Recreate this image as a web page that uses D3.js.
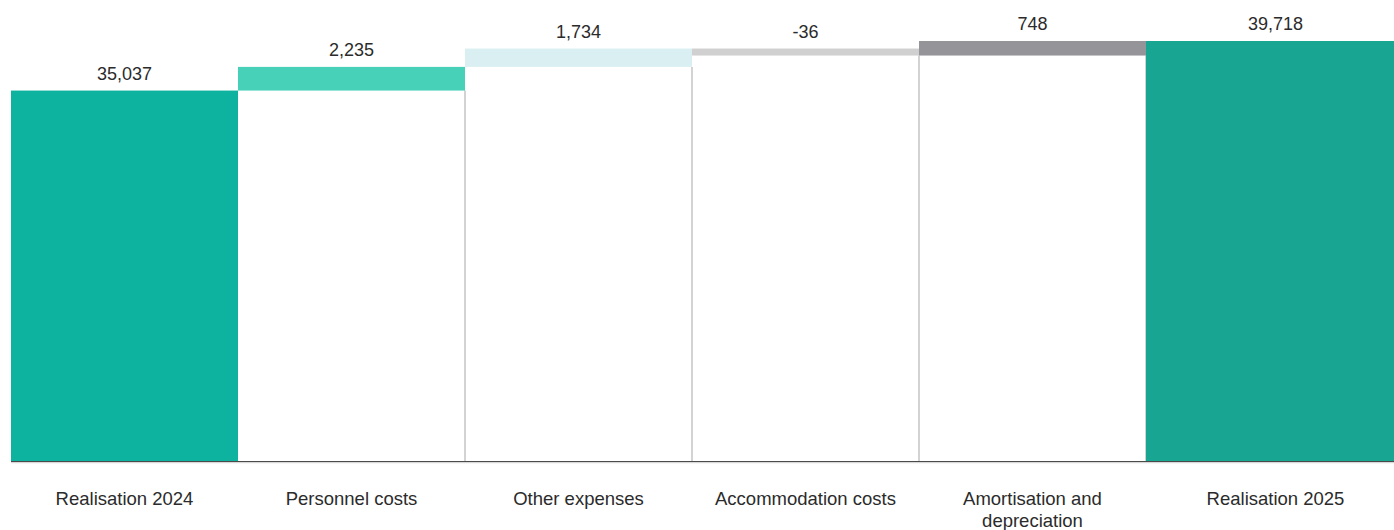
<!DOCTYPE html>
<html>
<head>
<meta charset="utf-8">
<script src="https://cdn.jsdelivr.net/npm/d3@7"></script>
<style>
  html, body { margin: 0; padding: 0; background: #ffffff; overflow: hidden; }
  svg { display: block; }
  text { font-family: "Liberation Sans", Arial, Helvetica, sans-serif; fill: #2b2b2b; }
</style>
</head>
<body>
<svg id="chart" width="1394" height="530"></svg>
<script>
// ---- Data ----
const categories = ["Realisation 2024", "Personnel costs", "Other expenses", "Accommodation costs", "Amortisation and depreciation", "Realisation 2025"];
const labelLines = [["Realisation 2024"], ["Personnel costs"], ["Other expenses"], ["Accommodation costs"], ["Amortisation and", "depreciation"], ["Realisation 2025"]];
const values = [35037, 2235, 1734, -36, 748, 39718];
const kinds = ["total", "step", "step", "step", "step", "total"];
const colors = ["#0db39f", "#47d1b9", "#daeff2", "#d0d0d0", "#959599", "#18a693"];

// ---- Layout ----
const W = 1394, H = 530;
const plotLeft = 11, bandW = 227, plotRightTotal = 1405;
const baseY = 461.5, topY = 41;
const minStepPx = 7;

const svg = d3.select("#chart");
const fmt = v => d3.format(",")(v).replace("\u2212", "-");

const x = d3.scaleBand()
  .domain(categories)
  .range([plotLeft, plotLeft + bandW * categories.length])
  .paddingInner(0).paddingOuter(0);

const y = d3.scaleLinear()
  .domain([0, d3.max(values)])
  .range([baseY, topY]);

// Build waterfall geometry
let cum = 0;
let prevEdgePx = null;
const bars = categories.map((c, i) => {
  let y0, y1;
  if (kinds[i] === "total") {
    cum = values[i];
    y0 = y(0); y1 = y(values[i]);
    prevEdgePx = y1;
  } else {
    const start = prevEdgePx;
    cum += values[i];
    let end = y(cum);
    if (Math.abs(end - start) < minStepPx) end = start + (values[i] < 0 ? minStepPx : -minStepPx);
    y0 = start; y1 = end;
    prevEdgePx = end;
  }
  const isLast = i === categories.length - 1;
  const x0 = x(c);
  const x1 = isLast ? plotRightTotal : x0 + x.bandwidth();
  return { c, i, x0, x1, top: Math.min(y0, y1), bottom: Math.max(y0, y1), kind: kinds[i], v: values[i], color: colors[i], lines: labelLines[i] };
});

// Connectors: right edge of step bars, from bar bottom to baseline
svg.append("g").selectAll("line")
  .data(bars.filter(b => b.kind === "step"))
  .join("line")
  .attr("x1", b => b.x1).attr("x2", b => b.x1)
  .attr("y1", b => b.bottom).attr("y2", baseY)
  .attr("stroke", "#c4c4c4").attr("stroke-width", 1.5);

// Bars
svg.append("g").selectAll("rect")
  .data(bars)
  .join("rect")
  .attr("x", b => b.x0)
  .attr("y", b => b.top)
  .attr("width", b => b.x1 - b.x0)
  .attr("height", b => b.bottom - b.top)
  .attr("fill", b => b.color);

// Baseline axis
svg.append("line")
  .attr("x1", plotLeft).attr("x2", W)
  .attr("y1", baseY).attr("y2", baseY)
  .attr("stroke", "#4a4a4a").attr("stroke-width", 1);
svg.append("line")
  .attr("x1", plotLeft).attr("x2", W)
  .attr("y1", baseY + 1.2).attr("y2", baseY + 1.2)
  .attr("stroke", "#cfcfcf").attr("stroke-width", 1);

// Value labels
svg.append("g").selectAll("text")
  .data(bars)
  .join("text")
  .attr("x", b => (b.x0 + b.x1) / 2)
  .attr("y", b => b.top - 11)
  .attr("text-anchor", "middle")
  .attr("font-size", 18)
  .text(b => fmt(b.v));

// Category labels
const cl = svg.append("g").selectAll("text")
  .data(bars)
  .join("text")
  .attr("x", b => (b.x0 + b.x1) / 2)
  .attr("y", 505)
  .attr("text-anchor", "middle")
  .attr("font-size", 18.5);
cl.selectAll("tspan")
  .data(b => b.lines.map((t, k) => ({ t, k, cx: (b.x0 + b.x1) / 2 })))
  .join("tspan")
  .attr("x", d => d.cx)
  .attr("dy", d => d.k === 0 ? 0 : 22)
  .text(d => d.t);
</script>
</body>
</html>
